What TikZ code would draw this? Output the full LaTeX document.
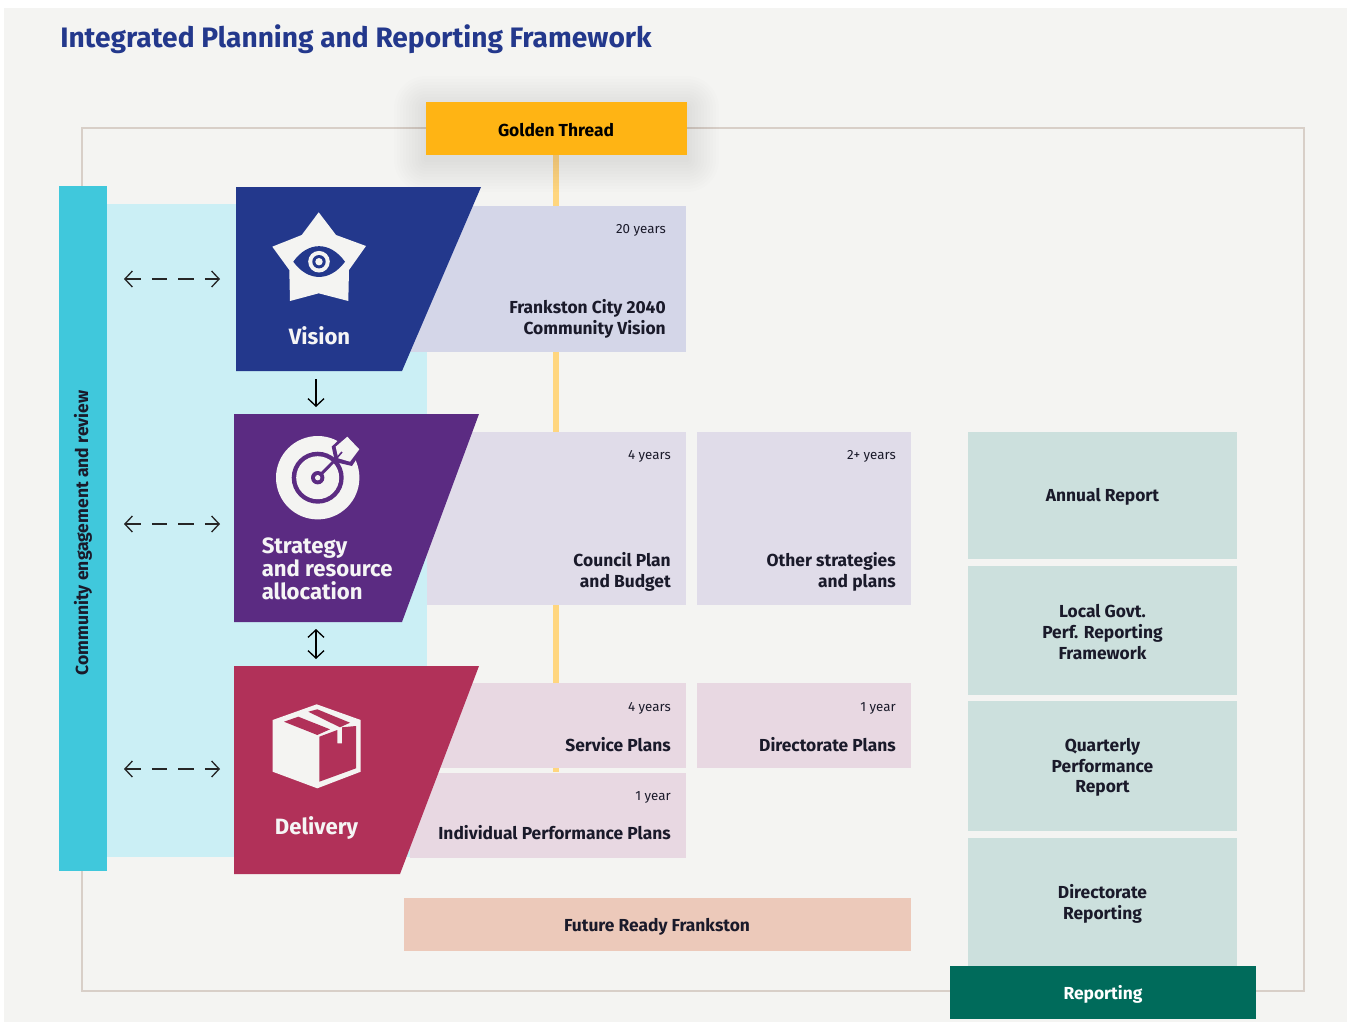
\documentclass[tikz,border=0pt]{standalone}
\usepackage{fontspec}
\usetikzlibrary{arrows.meta}
\setmainfont{Fira Sans}
\definecolor{pagebg}{HTML}{F4F4F2}
\definecolor{framec}{HTML}{D8CFC8}
\definecolor{navyc}{HTML}{23388C}
\definecolor{purplec}{HTML}{5B2B82}
\definecolor{crimsonc}{HTML}{B13159}
\definecolor{tealc}{HTML}{40C8DC}
\definecolor{paleblue}{HTML}{CBEFF5}
\definecolor{threadc}{HTML}{FFD67F}
\definecolor{goldc}{HTML}{FFB414}
\definecolor{visionbox}{HTML}{D4D6E8}
\definecolor{stratbox}{HTML}{E0DCE9}
\definecolor{delivbox}{HTML}{E8D8E2}
\definecolor{futurebox}{HTML}{ECC9BA}
\definecolor{reportbox}{HTML}{CCE0DD}
\definecolor{greenc}{HTML}{006B5B}
\definecolor{inkc}{HTML}{1A1A2A}
\newcommand{\fpx}[2]{\fontsize{#1}{#2}\selectfont}
\tikzset{
  x=0.75pt,y=-0.75pt,
  barb/.tip={Straight Barb[length=5.6pt,width=12pt,line width=1pt]},
  panel/.style={inner sep=0,outer sep=0,anchor=north west,draw=none},
  lbl/.style={inner sep=0,text=inkc,font=\bfseries\fpx{13.05}{15.6},align=right},
  yrs/.style={inner sep=0,text=inkc,font=\fpx{10}{12},anchor=north east},
  clbl/.style={inner sep=0,text=inkc,font=\bfseries\fpx{13.05}{15.6},align=center},
  wlbl/.style={inner sep=0,text=white!96!black,font=\bfseries\fpx{16.6}{17},align=left},
  flow/.style={draw=black!85,line width=0.95pt,dash pattern=on 11.4pt off 8.4pt,{barb}-{barb}},
  arrowv/.style={draw=black,line width=0.95pt,-{barb}},
  arrowvv/.style={draw=black,line width=0.95pt,{barb}-{barb}},
}
\newcommand{\pbox}[6]{\node[panel,fill=#6,minimum width=#4*0.75pt,minimum height=#5*0.75pt] (#1) at (#2,#3) {};}
\begin{document}
\begin{tikzpicture}
\useasboundingbox (0,0) rectangle (1347,1022);
\fill[white] (0,0) rectangle (1347,1022);
\fill[pagebg] (4,8) rectangle (1347,1022);
\node[inner sep=0,anchor=base west,text=navyc,font=\bfseries\fpx{21.1}{26}] (title) at (60,47) {Integrated Planning and Reporting Framework};
% frame
\draw[framec,line width=0.9pt] (82,128) rectangle (1304,991);
% engagement
\pbox{bluearea}{107}{204}{320}{653}{paleblue}
\node[panel,fill=tealc,minimum width=48*0.75pt,minimum height=685*0.75pt] (engage) at (59,186) {};
\node[inner sep=0,rotate=90,text=inkc,font=\bfseries\fpx{13.15}{15}] (engagetxt) at (83,533) {Community engagement and review};
% thread
\coordinate (threadend) at (556,772);
\coordinate (threadtop) at (556,150);
\draw[threadc,line width=4.6pt] (threadtop) -- (threadend);
% content panels
\pbox{visionp}{410}{206}{276}{146}{visionbox}
\pbox{councilp}{427}{432}{259}{173}{stratbox}
\pbox{otherp}{697}{432}{214}{173}{stratbox}
\pbox{servicep}{440}{683}{246}{85}{delivbox}
\pbox{dirp}{697}{683}{214}{85}{delivbox}
\pbox{indivp}{410}{773}{276}{85}{delivbox}
\pbox{futurep}{404}{898}{507}{53}{futurebox}
\pbox{annualp}{968}{432}{269}{127}{reportbox}
\pbox{lgp}{968}{566}{269}{129}{reportbox}
\pbox{quarterp}{968}{701}{269}{130}{reportbox}
\pbox{dirrepp}{968}{838}{269}{128}{reportbox}
% panel texts
\node[yrs] (y1) at (666,224.5) {20 years};
\node[lbl,anchor=north east] (t1) at (666,299.5) {Frankston City 2040\\Community Vision};
\node[yrs] (y2) at (671,450.5) {4 years};
\node[lbl,anchor=north east] (t2) at (671,552) {Council Plan\\and Budget};
\node[yrs] (y3) at (896,450.5) {2+ years};
\node[lbl,anchor=north east] (t3) at (896,552) {Other strategies\\and plans};
\node[yrs] (y4) at (671,702.5) {4 years};
\node[lbl,anchor=north east] (t4) at (671,737) {Service Plans};
\node[yrs] (y5) at (896,702.5) {1 year};
\node[lbl,anchor=north east] (t5) at (896,737) {Directorate Plans};
\node[yrs] (y6) at (671,791.5) {1 year};
\node[lbl,anchor=north east] (t6) at (671,825) {Individual Performance Plans};
\node[clbl] (t7) at (657,927) {Future Ready Frankston};
\node[clbl] (t8) at (1102.5,497) {Annual Report};
\node[clbl] (t9) at (1102.5,632) {Local Govt.\\Perf. Reporting\\Framework};
\node[clbl] (t10) at (1102.5,767.5) {Quarterly\\Performance\\Report};
\node[clbl] (t11) at (1102.5,904) {Directorate\\Reporting};
% reporting bar
\node[panel,fill=greenc,minimum width=306*0.75pt,minimum height=53*0.75pt] (reporting) at (950,966) {};
\node[inner sep=0,text=white,font=\bfseries\fpx{13.05}{15}] (reportingtxt) at (1103,994.5) {Reporting};
% gold with soft shadow
\foreach \r in {32,29,...,2}{
  \fill[black,opacity=0.007,rounded corners=\r*0.75pt] (426-\r,108-\r) rectangle (687+\r,160+\r);
}
\node[panel,fill=goldc,minimum width=261*0.75pt,minimum height=53*0.75pt] (golden) at (426,102) {};
\node[inner sep=0,text=black,font=\bfseries\fpx{13.05}{15}] (goldentxt) at (556,130) {Golden Thread};
% Vision
\fill[navyc] (236,187) -- (481,187) -- (402,371) -- (236,371) -- cycle;
\fill[pagebg] (318.7,212.3) -- (336,235) -- (366,246) -- (349,270) -- (348.3,301) -- (318.7,293.3) -- (290,301) -- (289.3,270) -- (272.3,246.7) -- (301.7,235) -- cycle;
\fill[navyc] (293.3,261.7) .. controls (308,241) and (330,241) .. (345,261.7) .. controls (330,282) and (308,282) .. (293.3,261.7) -- cycle;
\fill[pagebg] (319,261.7) circle[radius=10.8];
\fill[navyc] (319,261.7) circle[radius=6.7];
\fill[pagebg] (319,261.7) circle[radius=3.7];
\node[wlbl] (visiontxt) at (319.5,336) {Vision};
% Strategy
\fill[purplec] (234,414) -- (479,414) -- (402,622) -- (234,622) -- cycle;
\fill[pagebg] (317.7,477.7) circle[radius=41.7];
\fill[purplec] (331.7,446.7) -- (347,432) -- (363,449) -- (352,466) -- (335,462) -- cycle;
\fill[purplec] (317.7,477.7) circle[radius=26];
\fill[pagebg] (317.7,477.7) circle[radius=21.5];
\draw[purplec,line width=2.2pt] (317.7,477.7) -- (338,457);
\fill[purplec] (317.7,477.7) circle[radius=6.7];
\fill[pagebg] (317.7,477.7) circle[radius=2.7];
\fill[pagebg] (347.3,436.7) -- (359.3,449.3) -- (350,461.7) -- (338.3,458.3) -- (335.7,446.7) -- cycle;
\draw[purplec,line width=1.2pt] (336,459) -- (342,452);
\node[wlbl,anchor=west,font=\bfseries\fpx{16.6}{17.2}] (strattxt) at (261.5,569) {Strategy\\and resource\\allocation};
% Delivery
\fill[crimsonc] (234,666) -- (479,666) -- (400,874) -- (234,874) -- cycle;
\fill[pagebg] (316.7,704.3) -- (360.7,720) -- (360.7,771.7) -- (317.3,788.3) -- (272.7,771.7) -- (272.7,720) -- cycle;
\fill[crimsonc] (284,721.7) -- (298.3,716.7) -- (330,729.3) -- (317.3,735) -- cycle;
\fill[crimsonc] (308.3,711.7) -- (317.3,709.3) -- (350,722.7) -- (340,727.3) -- cycle;
\fill[crimsonc] (319.3,736.7) -- (337.3,730) -- (337.3,743.3) -- (342,743.3) -- (342,727.3) -- (356,726) -- (356,768.3) -- (319.3,781.7) -- cycle;
\node[wlbl] (delivtxt) at (316.5,828) {Delivery};
% arrows
\coordinate (a1l) at (124,279); \coordinate (a1r) at (220,279);
\coordinate (a2l) at (124,524); \coordinate (a2r) at (220,524);
\coordinate (a3l) at (124,769); \coordinate (a3r) at (220,769);
\coordinate (v1t) at (316,379); \coordinate (v1b) at (316,407);
\coordinate (v2t) at (316,629); \coordinate (v2b) at (316,659);
\draw[flow] (a1l) -- (a1r);
\draw[flow] (a2l) -- (a2r);
\draw[flow] (a3l) -- (a3r);
\draw[arrowv] (v1t) -- (v1b);
\draw[arrowvv] (v2t) -- (v2b);
\end{tikzpicture}
\end{document}
